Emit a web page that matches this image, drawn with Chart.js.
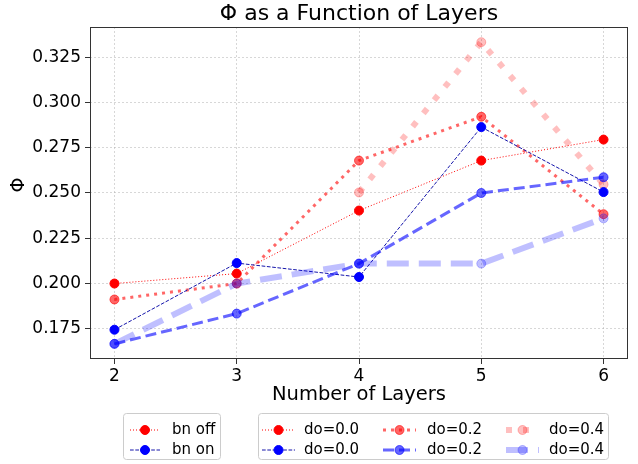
<!DOCTYPE html>
<html lang="en">
<head>
  <meta charset="UTF-8">
  <title>Phi as a Function of Layers</title>
  <script src="https://cdn.jsdelivr.net/npm/chart.js"></script>
  <style>
    body { margin: 0; background: #fff; }
  </style>
</head>
<body>
  <canvas id="myChart" width="638" height="464"></canvas>

  <script>
    // values
    const layers = [2, 3, 4, 5, 6];
    const xTicks = [2, 3, 4, 5, 6];
    const yTicks = [0.175, 0.200, 0.225, 0.250, 0.275, 0.300, 0.325];

    const bnOffDo00 = [0.200, 0.2055, 0.2403, 0.2679, 0.2795];
    const bnOffDo02 = [0.1912, 0.200, 0.2679, 0.2921, 0.2383];
    const bnOffDo04 = [null, null, 0.2503, 0.3333, 0.2547];
    const bnOnDo00 = [0.1745, 0.2113, 0.2036, 0.2864, 0.2505];
    const bnOnDo02 = [0.1667, 0.1834, 0.2110, 0.2500, 0.2587];
    const bnOnDo04 = [0.1667, 0.2000, 0.2110, 0.2110, 0.2360];

    const bnLabels = ['bn off', 'bn on'];
    const doLabels = ['do=0.0', 'do=0.2', 'do=0.4'];

    const FONT = "'DejaVu Sans', sans-serif";

    function series(name, values, rgb, alpha, width, dash, lineRgb) {
      const c = 'rgba(' + rgb + ',' + alpha + ')';
      const lc = 'rgba(' + (lineRgb || rgb) + ',' + alpha + ')';
      return {
        label: name,
        data: layers.map((x, i) => ({ x: x, y: values[i] })),
        borderColor: lc,
        backgroundColor: c,
        borderWidth: width,
        borderDash: dash,
        pointRadius: 4.5,
        pointHoverRadius: 4.5,
        pointBackgroundColor: c,
        pointBorderColor: c,
        pointBorderWidth: 1,
        fill: false,
        tension: 0,
        spanGaps: false
      };
    }

    const datasets = [
      series('bn off do=0.0', bnOffDo00, '255,0,0', 1, 1, [1, 2]),
      series('bn off do=0.2', bnOffDo02, '255,0,0', 0.6, 3, [3, 5]),
      series('bn off do=0.4', bnOffDo04, '255,0,0', 0.25, 6, [6, 11]),
      series('bn on do=0.0', bnOnDo00, '0,0,255', 1, 1, [3.7, 1.6], '20,20,170'),
      series('bn on do=0.2', bnOnDo02, '0,0,255', 0.6, 3, [11, 5]),
      series('bn on do=0.4', bnOnDo04, '0,0,255', 0.25, 6, [22, 10])
    ];
    // later series on top, like the plotting order
    datasets.forEach((d, i) => { d.order = datasets.length - i; });

    function drawHandle(ctx, ds, x0, x1, y) {
      ctx.save();
      ctx.strokeStyle = ds.borderColor;
      ctx.lineWidth = ds.borderWidth;
      ctx.setLineDash(ds.borderDash);
      ctx.beginPath();
      ctx.moveTo(x0, y);
      ctx.lineTo(x1, y);
      ctx.stroke();
      ctx.setLineDash([]);
      ctx.fillStyle = ds.pointBackgroundColor;
      ctx.strokeStyle = ds.pointBorderColor;
      ctx.lineWidth = 1;
      ctx.beginPath();
      ctx.arc((x0 + x1) / 2, y, ds.pointRadius, 0, Math.PI * 2);
      ctx.fill();
      ctx.stroke();
      ctx.restore();
    }

    function legendBox(ctx, x, y, w, h) {
      ctx.save();
      ctx.fillStyle = 'rgba(255,255,255,0.8)';
      ctx.strokeStyle = '#cccccc';
      ctx.lineWidth = 1;
      ctx.beginPath();
      ctx.roundRect(x + 0.5, y + 0.5, w, h, 3);
      ctx.fill();
      ctx.stroke();
      ctx.restore();
    }

    const decorations = {
      id: 'decorations',
      afterDraw(chart) {
        const ctx = chart.ctx;
        const a = chart.chartArea;
        const ds = chart.data.datasets;

        // frame on all four sides
        ctx.save();
        ctx.strokeStyle = '#333333';
        ctx.lineWidth = 1;
        ctx.strokeRect(a.left + 0.5, a.top + 0.5, a.right - a.left - 1, a.bottom - a.top - 1);

        ctx.fillStyle = '#000';
        ctx.textAlign = 'center';
        ctx.textBaseline = 'middle';
        ctx.font = '22px ' + FONT;
        ctx.fillText('\u03A6 as a Function of Layers', (a.left + a.right) / 2, 14);
        ctx.font = '19.5px ' + FONT;
        ctx.fillText('Number of Layers', (a.left + a.right) / 2, 395);

        ctx.translate(19, 185);
        ctx.rotate(-Math.PI / 2);
        ctx.font = '19px ' + FONT;
        ctx.fillText('\u03A6', 0, 0);
        ctx.restore();

        // two legends below the axes
        const rows = [430, 450];
        ctx.save();
        ctx.font = '15px ' + FONT;
        ctx.fillStyle = '#000';
        ctx.textAlign = 'left';
        ctx.textBaseline = 'middle';

        legendBox(ctx, 123, 413, 97, 46);
        bnLabels.forEach((lab, r) => {
          drawHandle(ctx, ds[r * 3], 130, 160, rows[r]);
          ctx.fillText(lab, 172, rows[r]);
        });

        legendBox(ctx, 258, 413, 350, 46);
        const cols = [[262, 295, 304], [383, 416, 427], [506, 539, 549]];
        doLabels.forEach((lab, c) => {
          for (let r = 0; r < 2; r++) {
            drawHandle(ctx, ds[r * 3 + c], cols[c][0], cols[c][1], rows[r]);
            ctx.fillText(lab, cols[c][2], rows[r]);
          }
        });
        ctx.restore();
      }
    };

    const gridStyle = {
      color: 'rgba(170,170,170,0.6)',
      lineWidth: 0.8,
      drawTicks: true,
      tickLength: 5,
      tickColor: '#333333',
      tickWidth: 1,
      tickBorderDash: []
    };

    const ctx = document.getElementById('myChart').getContext('2d');
    new Chart(ctx, {
      type: 'line',
      data: { datasets: datasets },
      options: {
        responsive: false,
        animation: false,
        events: [],
        layout: { padding: { top: 27, right: 10, bottom: 0, left: 0 } },
        plugins: {
          legend: { display: false },
          title: { display: false },
          tooltip: { enabled: false }
        },
        scales: {
          x: {
            type: 'linear',
            bounds: 'data',
            min: 1.8,
            max: 6.2,
            afterBuildTicks: s => { s.ticks = xTicks.map(v => ({ value: v })); },
            afterFit: s => { s.height = 105; },
            grid: gridStyle,
            border: { display: false, dash: [2, 2] },
            ticks: {
              color: '#000',
              font: { family: FONT, size: 17 },
              padding: 2,
              maxRotation: 0,
              callback: v => String(v)
            }
          },
          y: {
            type: 'linear',
            bounds: 'data',
            min: 0.15833,
            max: 0.34167,
            afterBuildTicks: s => { s.ticks = yTicks.map(v => ({ value: v })); },
            afterFit: s => { s.width = 90; },
            grid: gridStyle,
            border: { display: false, dash: [2, 2] },
            ticks: {
              color: '#000',
              font: { family: FONT, size: 17 },
              padding: 4,
              callback: v => v.toFixed(3)
            }
          }
        }
      },
      plugins: [decorations]
    });
  </script>
</body>
</html>
